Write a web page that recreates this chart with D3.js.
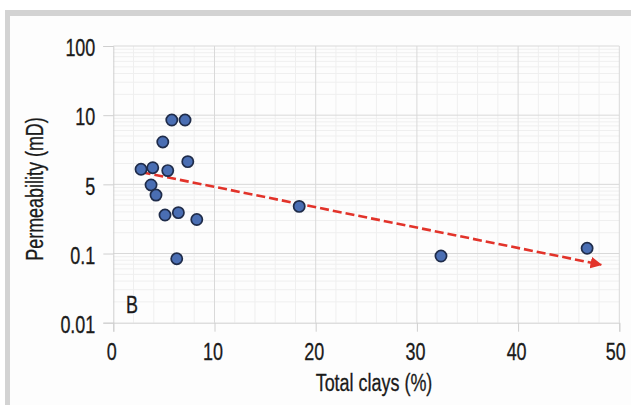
<!DOCTYPE html>
<html>
<head>
<meta charset="utf-8">
<script src="https://cdn.jsdelivr.net/npm/d3@7"></script>
<style>
  html, body { margin: 0; padding: 0; background: #ffffff; }
  svg { display: block; }
  text { font-family: "Liberation Sans", Arial, sans-serif; fill: #1a1a1a; stroke: #1a1a1a; stroke-width: 0.3px; }
</style>
</head>
<body>
<svg id="chart" width="631" height="405"></svg>
<script>
// Total clay content (%) and permeability (mD) of each sample
const clays = [5.78, 7.09, 4.89, 7.36, 2.74, 3.9, 5.38, 3.73, 4.22, 5.11, 6.43, 8.25, 6.27, 18.37, 32.38, 46.82];
const permeability = [8.5, 8.5, 4.1, 2.13, 1.65, 1.74, 1.58, 0.98, 0.70, 0.36, 0.39, 0.31, 0.084, 0.48, 0.092, 0.119];

// Trend arrow: start and end points
const trendClays = [2.8, 48.2];
const trendPerm = [1.5, 0.069];

// Axis ticks and labels
const xTicks = [0, 10, 20, 30, 40, 50];
const yTicks = [100, 10, 1, 0.1, 0.01];
const yTickLabels = ["100", "10", "5", "0.1", "0.01"];

const svg = d3.select("#chart");
const W = 631, H = 405;
const plot = { left: 113.3, right: 619.3, top: 46, bottom: 322.7 };
const FONT = 23;
const NARROW = 0.78; // horizontal squeeze for a condensed look

// condense a text selection horizontally while keeping its anchor
function condense(sel) {
  sel.each(function () {
    const len = this.getComputedTextLength();
    d3.select(this).attr("textLength", len * NARROW).attr("lengthAdjust", "spacingAndGlyphs");
  });
}

// frame
svg.append("rect").attr("x", 5).attr("y", 10).attr("width", W - 5).attr("height", H - 10).attr("fill", "#d3d3d3");
svg.append("rect").attr("x", 10).attr("y", 16).attr("width", W - 10).attr("height", H - 16).attr("fill", "#fdfdfd");

const x = d3.scaleLinear().domain([0, 50]).range([plot.left, plot.right]);
const y = d3.scaleLog().domain([0.01, 100]).range([plot.bottom, plot.top]);

const g = svg.append("g");

// minor grid
const minorX = d3.range(0, 50, 2).filter(v => v % 10 !== 0);
const minorY = [];
[0.01, 0.1, 1, 10].forEach(dec => { for (let k = 2; k <= 9; k++) minorY.push(dec * k); });

g.selectAll(".mx").data(minorX).join("line")
  .attr("x1", d => x(d)).attr("x2", d => x(d))
  .attr("y1", plot.top).attr("y2", plot.bottom)
  .attr("stroke", "#efefef").attr("stroke-width", 1);
g.selectAll(".my").data(minorY).join("line")
  .attr("x1", plot.left).attr("x2", plot.right)
  .attr("y1", d => y(d)).attr("y2", d => y(d))
  .attr("stroke", "#efefef").attr("stroke-width", 1);

// major grid
g.selectAll(".gx").data(xTicks.slice(1)).join("line")
  .attr("x1", d => x(d)).attr("x2", d => x(d))
  .attr("y1", plot.top).attr("y2", plot.bottom)
  .attr("stroke", "#d9d9d9").attr("stroke-width", 1);
g.selectAll(".gy").data(yTicks.slice(0, -1)).join("line")
  .attr("x1", plot.left).attr("x2", plot.right)
  .attr("y1", d => y(d)).attr("y2", d => y(d))
  .attr("stroke", "#d9d9d9").attr("stroke-width", 1);

// axes
const xAxis = d3.axisBottom(x).tickValues(xTicks).tickFormat(d3.format("d")).tickSize(9).tickPadding(12);
const yAxis = d3.axisLeft(y).tickValues(yTicks).tickFormat((d, i) => yTickLabels[i]).tickSize(10).tickPadding(8);

const gx = svg.append("g").attr("transform", `translate(0,${plot.bottom})`).call(xAxis);
const gy = svg.append("g").attr("transform", `translate(${plot.left},0)`).call(yAxis);
[gx, gy].forEach(a => {
  a.select(".domain").attr("stroke", "#cfcfcf");
  a.selectAll(".tick line").attr("stroke", "#cfcfcf");
  a.selectAll(".tick text").attr("font-size", FONT).attr("fill", "#1a1a1a")
    .style("font-family", '"Liberation Sans", Arial, sans-serif');
  condense(a.selectAll(".tick text"));
});
gx.selectAll(".tick text").attr("dx", (d, i) => (i === xTicks.length - 1 ? -4 : -2));
gy.selectAll(".tick text").attr("dy", "0.42em");

// axis titles
svg.append("text")
  .attr("x", 374).attr("y", 391)
  .attr("text-anchor", "middle").attr("font-size", FONT)
  .text("Total clays (%)").call(condense);
svg.append("text")
  .attr("transform", "translate(43,189) rotate(-90)")
  .attr("text-anchor", "middle").attr("font-size", FONT)
  .text("Permeability (mD)").call(condense);

// panel letter
svg.append("text").attr("x", 126).attr("y", 313).attr("font-size", FONT).text("B").call(condense);

// trend arrow
const defs = svg.append("defs");
defs.append("marker")
  .attr("id", "arrow").attr("viewBox", "0 0 10 10")
  .attr("refX", 9).attr("refY", 5)
  .attr("markerWidth", 4.5).attr("markerHeight", 4.5)
  .attr("markerUnits", "strokeWidth")
  .attr("orient", "auto")
  .append("path").attr("d", "M0,0 L10,5 L0,10 Z").attr("fill", "#e2332a");

const trend = trendClays.map((c, i) => [c, trendPerm[i]]);
svg.append("path")
  .datum(trend)
  .attr("d", d3.line().x(d => x(d[0])).y(d => y(d[1])))
  .attr("fill", "none")
  .attr("stroke", "#e2332a")
  .attr("stroke-width", 2.6)
  .attr("stroke-dasharray", "9,4")
  .attr("marker-end", "url(#arrow)");

// samples
const pts = clays.map((c, i) => ({ c, p: permeability[i] }));
svg.append("g").selectAll("circle").data(pts).join("circle")
  .attr("cx", d => x(d.c)).attr("cy", d => y(d.p))
  .attr("r", 5.6)
  .attr("fill", "#4a6eb3")
  .attr("stroke", "#1f2c4a")
  .attr("stroke-width", 1.7);
</script>
</body>
</html>
